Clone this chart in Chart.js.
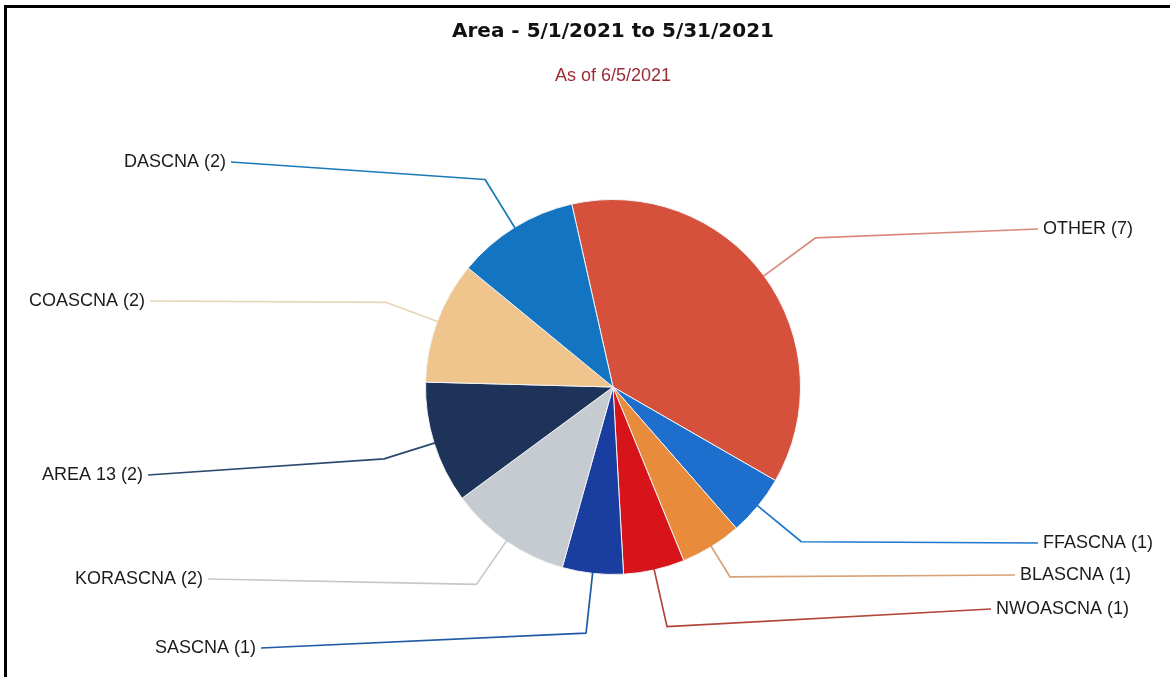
<!DOCTYPE html>
<html><head><meta charset="utf-8">
<script src="https://cdn.jsdelivr.net/npm/chart.js@4/dist/chart.umd.min.js"></script>
<style>
html,body{margin:0;padding:0;background:#fff;}
#wrap{position:relative;width:1170px;height:677px;overflow:hidden;background:#fff;}
#frame{position:absolute;left:4px;top:5px;right:-10px;bottom:-10px;border-top:3px solid #000;border-left:3px solid #000;pointer-events:none;}
canvas{position:absolute;left:0;top:0;}
</style></head><body>
<div id="wrap"><canvas id="c" width="1170" height="677"></canvas><div id="frame"></div></div>
<script>
// ---- data ----
const categories = ['OTHER','FFASCNA','BLASCNA','NWOASCNA','SASCNA','KORASCNA','AREA 13','COASCNA','DASCNA'];
const counts = [7, 1, 1, 1, 1, 2, 2, 2, 2];
const titleText = 'Area - 5/1/2021 to 5/31/2021';
const subtitleText = 'As of 6/5/2021';

// ---- styles / layout ----
const sliceColors = ['#d5513b','#1e6ecd','#e88c3c','#d61419','#1a3ea0','#c6cad1','#1e335a','#f0c58d','#1374c2'];
const lineColors  = ['#d98a7c','#1f78cc','#d8a277','#b2463a','#1f5aa6','#c4c7cc','#2a4a6e','#e6d5b6','#1a7ab6'];
// label placement: align 'left' => text starts at x ; 'right' => text ends at x
const labelLayout = [
  {align:'left',  x:1043, y:229, bend:1.34},
  {align:'left',  x:1043, y:543, bend:1.30},
  {align:'left',  x:1020, y:575, bend:1.19},
  {align:'left',  x:996,  y:609, bend:1.31},
  {align:'right', x:256,  y:648, bend:1.32},
  {align:'right', x:203,  y:579, bend:1.28},
  {align:'right', x:143,  y:475, bend:1.28},
  {align:'right', x:145,  y:301, bend:1.29},
  {align:'right', x:226,  y:162, bend:1.30}
];

const leaderPlugin = {
  id: 'leaders',
  afterDatasetsDraw(chart, args, opts) {
    const ctx = chart.ctx;
    const meta = chart.getDatasetMeta(0);
    const vals = chart.data.datasets[0].data;
    meta.data.forEach((arc, i) => {
      const p = arc.getProps(['x','y','startAngle','endAngle','outerRadius'], true);
      const mid = (p.startAngle + p.endAngle) / 2;
      const lab = opts.layout[i];
      const r0 = p.outerRadius - 1;
      const r1 = p.outerRadius * lab.bend;
      const ex = p.x + Math.cos(mid) * r0, ey = p.y + Math.sin(mid) * r0;
      const bx = p.x + Math.cos(mid) * r1, by = p.y + Math.sin(mid) * r1;
      const gap = 5;
      const tx = lab.align === 'left' ? lab.x - gap : lab.x + gap;
      ctx.save();
      ctx.strokeStyle = opts.lineColors[i];
      ctx.lineWidth = 1.7;
      ctx.lineJoin = 'round';
      ctx.beginPath();
      ctx.moveTo(ex, ey); ctx.lineTo(bx, by); ctx.lineTo(tx, lab.y);
      ctx.stroke();
      ctx.font = opts.font;
      ctx.fillStyle = opts.color;
      ctx.textBaseline = 'middle';
      ctx.textAlign = lab.align;
      ctx.fillText(chart.data.labels[i] + ' (' + vals[i] + ')', lab.x, lab.y);
      ctx.restore();
    });
  }
};

new Chart(document.getElementById('c'), {
  type: 'pie',
  data: {
    labels: categories,
    datasets: [{
      data: counts,
      backgroundColor: sliceColors,
      borderColor: '#f2f2f2',
      borderWidth: 1
    }]
  },
  options: {
    responsive: false,
    animation: false,
    devicePixelRatio: 1,
    rotation: -12.7,
    layout: { padding: { left: 425, right: 369, top: 0, bottom: 102 } },
    plugins: {
      legend: { display: false },
      tooltip: { enabled: false },
      title: {
        display: true, text: titleText, color: '#111',
        font: { family: 'DejaVu Sans', size: 20, weight: 'bold', lineHeight: 1.2 },
        padding: { top: 19.5, bottom: 0 }
      },
      subtitle: {
        display: true, text: subtitleText, color: '#9e2a36',
        font: { family: 'Liberation Sans', size: 18, weight: 'normal', lineHeight: 1.2 },
        padding: { top: 21.7, bottom: 112.2 }
      },
      leaders: {
        layout: labelLayout,
        lineColors: lineColors,
        font: '18px "Liberation Sans", Arial, sans-serif',
        color: '#1c1c1c'
      }
    }
  },
  plugins: [leaderPlugin]
});
</script>
</body></html>
